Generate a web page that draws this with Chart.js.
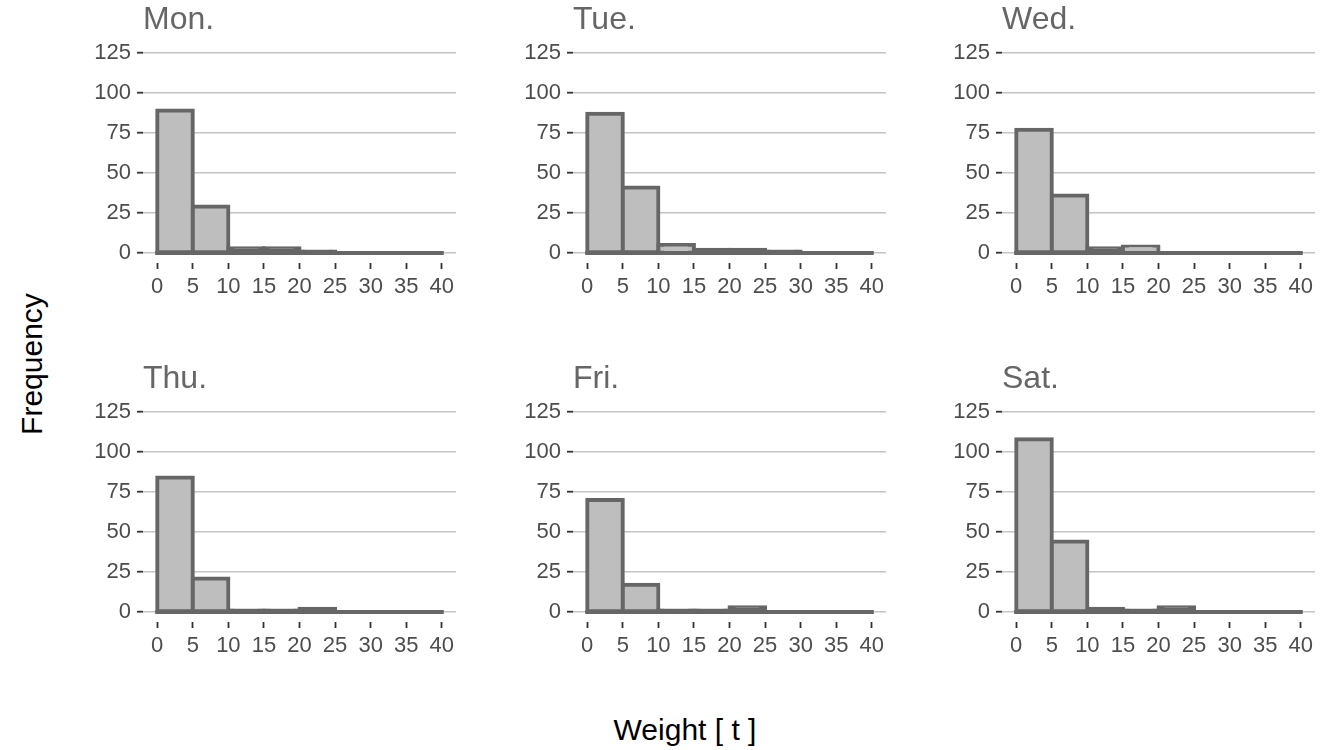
<!DOCTYPE html>
<html><head><meta charset="utf-8">
<script src="https://cdn.jsdelivr.net/npm/chart.js@4.4.0/dist/chart.umd.min.js"></script>
<style>
html,body{margin:0;padding:0;background:#fff;}
body{width:1329px;height:750px;position:relative;overflow:hidden;font-family:"Liberation Sans",Arial,sans-serif;}
canvas{position:absolute;}
.axt{position:absolute;font-size:30px;line-height:30px;color:#000;white-space:nowrap;}
#xt{left:685px;top:715px;transform:translateX(-50%);}
#yt{left:31.6px;top:364px;transform:translate(-50%,-50%) rotate(-90deg);}
</style></head><body>
<div id="xt" class="axt">Weight [ t ]</div>
<div id="yt" class="axt">Frequency</div>
<script>
const days = ['Mon.', 'Tue.', 'Wed.', 'Thu.', 'Fri.', 'Sat.'];
const binEdges = [0, 5, 10, 15, 20, 25, 30, 35, 40];
const xTicks = [0, 5, 10, 15, 20, 25, 30, 35, 40];
const yTicks = [0, 25, 50, 75, 100, 125];
const monCounts = [89, 29, 3, 3, 1, 0, 0, 0];
const tueCounts = [87, 41, 5, 2, 2, 1, 0, 0];
const wedCounts = [77, 36, 3, 4, 0, 0, 0, 0];
const thuCounts = [84, 21, 1, 1, 2, 0, 0, 0];
const friCounts = [70, 17, 1, 1, 3, 0, 0, 0];
const satCounts = [108, 44, 2, 1, 3, 0, 0, 0];
const allCounts = [monCounts, tueCounts, wedCounts, thuCounts, friCounts, satCounts];

const FONT = '"Liberation Sans", Arial, sans-serif';
const colLeft = [73, 503, 932];
const rowTop = [1, 360];
const CW = 391, CH = 307;
const FILL = '#bebebe', EDGE = '#666666';

function makePanel(i, counts) {
  const cv = document.createElement('canvas');
  cv.width = CW; cv.height = CH;
  cv.style.width = CW + 'px'; cv.style.height = CH + 'px';
  cv.style.left = colLeft[i % 3] + 'px';
  cv.style.top = rowTop[Math.floor(i / 3)] + 'px';
  document.body.appendChild(cv);
  const centers = binEdges.slice(0, -1).map((e, k) => (e + binEdges[k + 1]) / 2);
  new Chart(cv, {
    type: 'bar',
    data: {
      datasets: [
        {
          type: 'line',
          data: [{x: binEdges[0], y: 0}, {x: binEdges[binEdges.length - 1], y: 0}],
          borderColor: EDGE, borderWidth: 4, pointRadius: 0,
          borderCapStyle: 'square', order: 0
        },
        {
          type: 'bar',
          data: centers.map((c, k) => ({x: c, y: counts[k]})),
          backgroundColor: (ctx) => (ctx.raw && ctx.raw.y > 3) ? FILL : EDGE,
          borderColor: EDGE, borderWidth: 4,
          borderSkipped: false,
          inflateAmount: 2,
          categoryPercentage: 1, barPercentage: 1, order: 1
        }
      ]
    },
    options: {
      responsive: false, animation: false, devicePixelRatio: 1,
      layout: {padding: {top: 0, right: 8, bottom: 0, left: 0}},
      plugins: {
        legend: {display: false},
        tooltip: {enabled: false},
        title: {
          display: true, text: days[i], align: 'start', fullSize: false,
          color: '#666666', font: {family: FONT, size: 32, weight: 'normal'},
          padding: {top: 0, bottom: 3.6}
        }
      },
      scales: {
        x: {
          type: 'linear', min: -2, max: 42, offset: false,
          afterBuildTicks: (s) => { s.ticks = xTicks.map(v => ({value: v})); },
          afterFit: (s) => { s.height = 45; },
          grid: {drawOnChartArea: false, drawTicks: true, tickLength: 6, tickColor: '#333333', tickWidth: 1.8, offset: false},
          border: {display: false},
          ticks: {autoSkip: false, maxRotation: 0, padding: 5, color: '#4d4d4d', font: {family: FONT, size: 22}}
        },
        y: {
          type: 'linear', min: -6.25, max: 131.25,
          afterBuildTicks: (s) => { s.ticks = yTicks.map(v => ({value: v})); },
          afterFit: (s) => { s.width = 70; },
          grid: {color: '#c4c4c4', lineWidth: 1.4, tickLength: 6, tickColor: '#333333', tickWidth: 1.8},
          border: {display: false},
          ticks: {padding: 6, color: '#4d4d4d', font: {family: FONT, size: 22}}
        }
      }
    }
  });
}
allCounts.forEach((c, i) => makePanel(i, c));
</script>
</body></html>
